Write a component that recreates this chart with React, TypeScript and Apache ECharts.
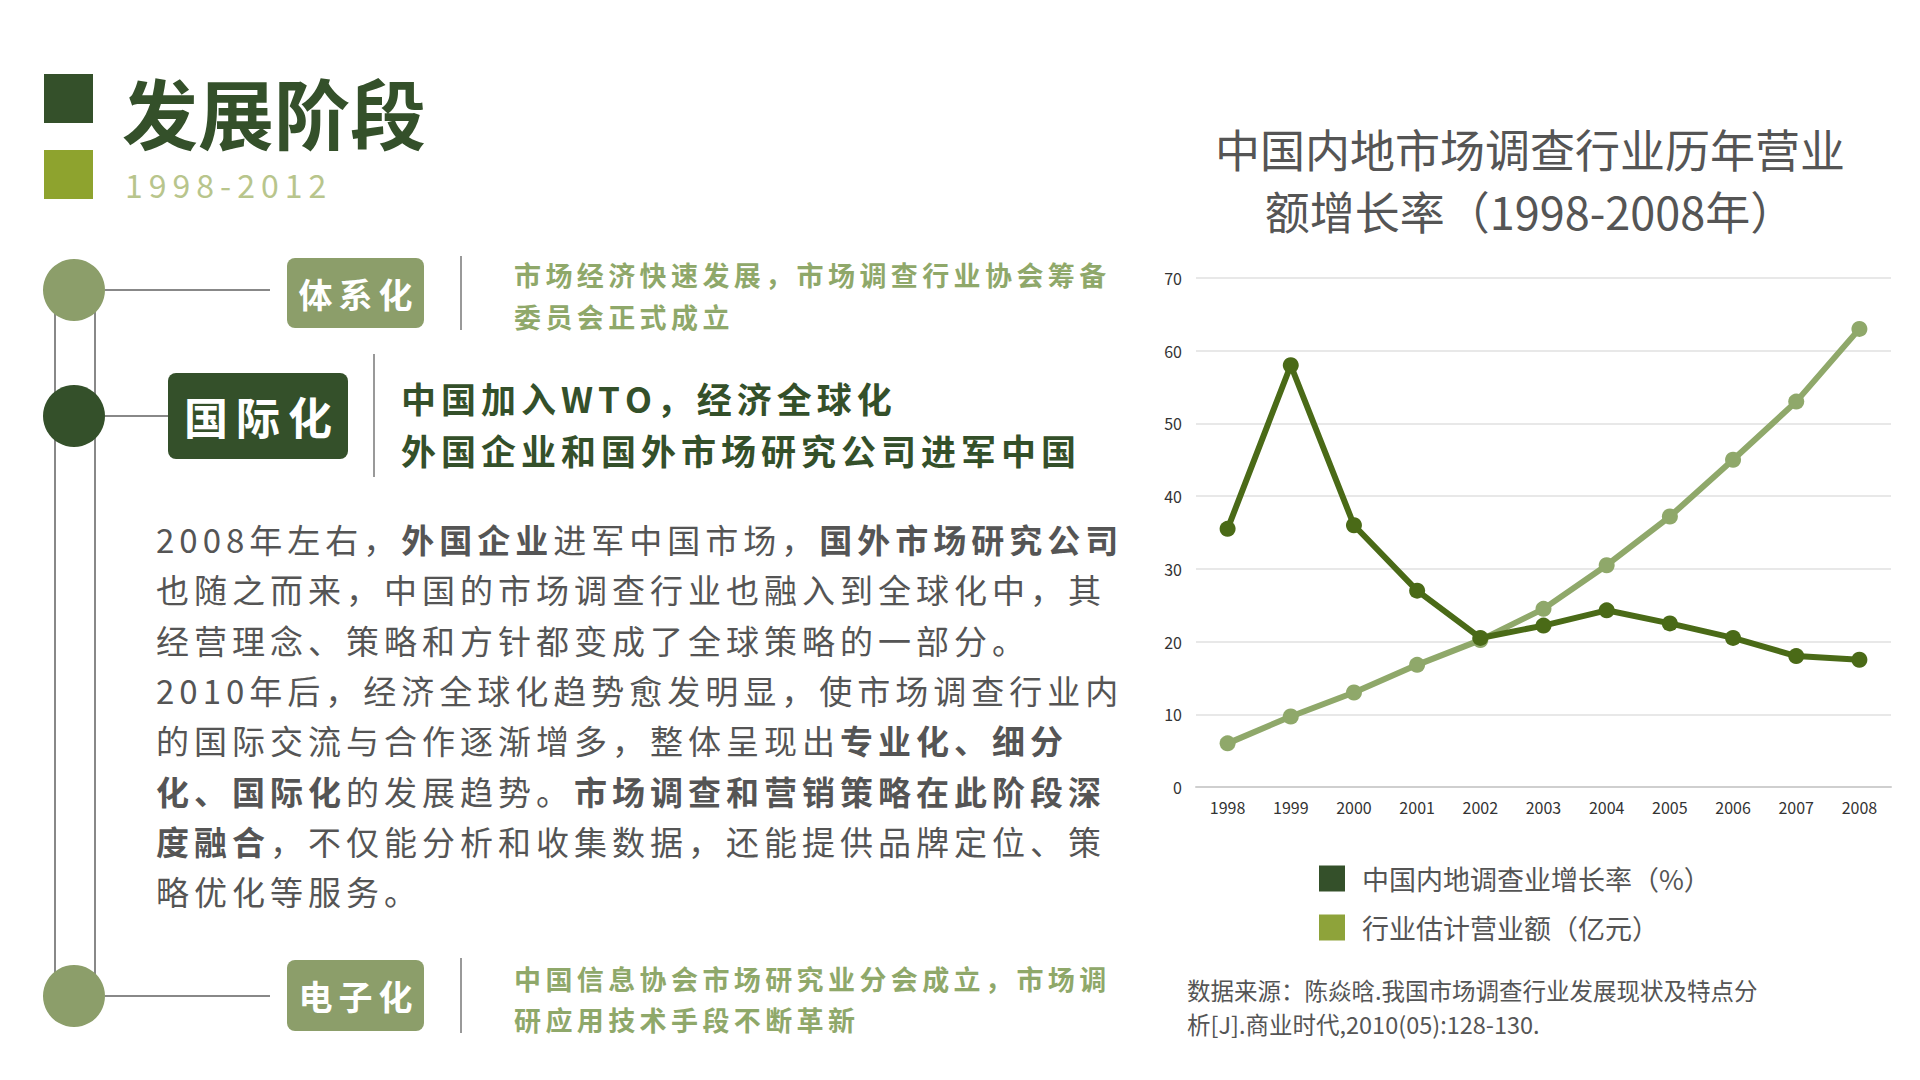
import { useEffect, useRef } from 'react'
import * as echarts from 'echarts'

const years = ['1998', '1999', '2000', '2001', '2002', '2003', '2004', '2005', '2006', '2007', '2008']
const growthRate = [35.5, 58, 36, 27, 20.5, 22.2, 24.3, 22.5, 20.5, 18, 17.5]
const revenue = [6, 9.7, 13, 16.8, 20.2, 24.5, 30.5, 37.2, 45, 53, 63]
const seriesNames = ['中国内地调查业增长率（%）', '行业估计营业额（亿元）']

const paragraph = [
  [{ t: '2008年左右，' }, { t: '外国企业', b: 1 }, { t: '进军中国市场，' }, { t: '国外市场研究公司', b: 1 }],
  [{ t: '也随之而来，中国的市场调查行业也融入到全球化中，其' }],
  [{ t: '经营理念、策略和方针都变成了全球策略的一部分。' }],
  [{ t: '2010年后，经济全球化趋势愈发明显，使市场调查行业内' }],
  [{ t: '的国际交流与合作逐渐增多，整体呈现出' }, { t: '专业化、细分', b: 1 }],
  [{ t: '化、国际化', b: 1 }, { t: '的发展趋势。' }, { t: '市场调查和营销策略在此阶段深', b: 1 }],
  [{ t: '度融合', b: 1 }, { t: '，不仅能分析和收集数据，还能提供品牌定位、策' }],
  [{ t: '略优化等服务。' }],
]

const FONT = '"Noto Sans CJK SC", "Noto Sans", sans-serif'
const DARK = '#34502a'
const MID = '#8c9e6a'
const GRAY = '#555555'

const ctx = document.createElement('canvas').getContext('2d')!
// 逐字排布，模拟字间距
function spaced(x: number, y: number, text: string, size: number, color: string, weight: string, gap: number) {
  ctx.font = `${weight} ${size}px ${FONT}`
  const els: any[] = []
  let cx = x
  for (const ch of Array.from(text)) {
    els.push({
      type: 'text', x: cx, y,
      style: { text: ch, fontSize: size, fill: color, fontWeight: weight, fontFamily: FONT, verticalAlign: 'middle' },
    })
    cx += ctx.measureText(ch).width + gap
  }
  return { els, end: cx }
}

export default function App() {
  const ref = useRef<HTMLDivElement>(null)

  useEffect(() => {
    if (!ref.current) return
    const chart = echarts.init(ref.current, null, { renderer: 'svg' })

    const txt = (x: number, y: number, text: string, size: number, color: string, weight = 'normal', extra: any = {}) => ({
      type: 'text', x, y,
      style: { text, fontSize: size, fill: color, fontWeight: weight, fontFamily: FONT, verticalAlign: 'middle', ...extra },
    })
    const sp = (x: number, y: number, text: string, size: number, color: string, weight: string, gap: number) =>
      spaced(x, y, text, size, color, weight, gap).els
    const tag = (x: number, y: number, w: number, h: number, label: string, fill: string, size: number) => {
      const gap = size * 0.18
      ctx.font = `bold ${size}px ${FONT}`
      const tw = ctx.measureText(label).width + gap * (label.length - 1)
      return [
        { type: 'rect', shape: { x, y, width: w, height: h, r: 8 }, style: { fill } },
        ...sp(x + (w - tw) / 2, y + h / 2, label, size, '#fff', 'bold', gap),
      ]
    }
    const line = (x1: number, y1: number, x2: number, y2: number, color = '#888') => ({
      type: 'line', shape: { x1, y1, x2, y2 }, style: { stroke: color, lineWidth: 2 },
    })

    const paraEls: any[] = []
    paragraph.forEach((segs, i) => {
      let x = 156
      for (const s of segs) {
        const r = spaced(x, 539 + i * 50.3, s.t, 33, GRAY, s.b ? 'bold' : 'normal', 5)
        paraEls.push(...r.els)
        x = r.end
      }
    })

    chart.setOption({
      animation: false,
      backgroundColor: '#fff',
      title: {
        text: '中国内地市场调查行业历年营业\n额增长率（1998-2008年）',
        left: 1525, top: 112, textAlign: 'center',
        textStyle: { fontSize: 45, fontWeight: 'normal', color: GRAY, fontFamily: FONT, lineHeight: 62 },
      },
      grid: { left: 1196, right: 29, top: 278, height: 509 },
      legend: {
        orient: 'vertical', left: 1314, top: 860, itemGap: 22,
        icon: 'rect', itemWidth: 26, itemHeight: 26,
        textStyle: { fontSize: 27, color: GRAY, fontFamily: FONT, padding: [0, 0, 0, 12] },
        data: [
          { name: seriesNames[0], itemStyle: { color: DARK } },
          { name: seriesNames[1], itemStyle: { color: '#8ea33a' } },
        ],
      },
      xAxis: {
        type: 'category', data: years,
        axisLine: { lineStyle: { color: '#cfcfcf', width: 2 } }, axisTick: { show: false },
        axisLabel: { fontSize: 16, color: '#333', fontFamily: FONT, margin: 12 },
      },
      yAxis: {
        type: 'value', min: 0, max: 70, interval: 10,
        axisLine: { show: false }, axisTick: { show: false },
        axisLabel: { fontSize: 16, color: '#333', fontFamily: FONT, margin: 14 },
        splitLine: { lineStyle: { color: '#e0e0e0', width: 1.5 } },
      },
      series: [
        {
          name: seriesNames[1], type: 'line', data: revenue, symbol: 'circle', symbolSize: 16,
          lineStyle: { width: 6, color: '#8fa86a' }, itemStyle: { color: '#8fa86a' },
        },
        {
          name: seriesNames[0], type: 'line', data: growthRate, symbol: 'circle', symbolSize: 16,
          lineStyle: { width: 6, color: '#4a6a17' }, itemStyle: { color: '#4a6a17' },
        },
      ],
      graphic: [
        { type: 'rect', shape: { x: 44, y: 74, width: 49, height: 49 }, style: { fill: DARK } },
        { type: 'rect', shape: { x: 44, y: 150, width: 49, height: 49 }, style: { fill: '#8ea32e' } },
        txt(122, 111, '发展阶段', 76, DARK, 'bold'),
        ...sp(125, 184, '1998-2012', 32, '#b8c58c', 'normal', 6),
        line(55, 290, 55, 996), line(95, 290, 95, 996),
        line(105, 290, 270, 290), line(105, 416, 170, 416), line(105, 996, 270, 996),
        { type: 'circle', shape: { cx: 74, cy: 290, r: 31 }, style: { fill: MID } },
        { type: 'circle', shape: { cx: 74, cy: 416, r: 31 }, style: { fill: DARK } },
        { type: 'circle', shape: { cx: 74, cy: 996, r: 31 }, style: { fill: MID } },
        ...tag(287, 258, 137, 70, '体系化', MID, 34),
        ...tag(168, 373, 180, 86, '国际化', DARK, 44),
        ...tag(287, 960, 137, 71, '电子化', MID, 34),
        line(461, 256, 461, 330, '#999'), line(374, 354, 374, 477, '#999'), line(461, 958, 461, 1033, '#999'),
        ...sp(514, 274, '市场经济快速发展，市场调查行业协会筹备', 27, '#8fa86a', 'bold', 4.4),
        ...sp(514, 316, '委员会正式成立', 27, '#8fa86a', 'bold', 4.4),
        ...sp(401, 397, '中国加入WTO，经济全球化', 35, DARK, 'bold', 5),
        ...sp(401, 449, '外国企业和国外市场研究公司进军中国', 35, DARK, 'bold', 5),
        ...paraEls,
        ...sp(514, 978, '中国信息协会市场研究业分会成立，市场调', 27, '#8fa86a', 'bold', 4.4),
        ...sp(514, 1019, '研应用技术手段不断革新', 27, '#8fa86a', 'bold', 4.4),
        txt(1187, 990, '数据来源：陈焱晗.我国市场调查行业发展现状及特点分', 23.5, GRAY),
        txt(1187, 1024, '析[J].商业时代,2010(05):128-130.', 23.5, GRAY),
      ],
    })
    return () => chart.dispose()
  }, [])

  return <div ref={ref} style={{ position: 'fixed', left: 0, top: 0, width: 1920, height: 1080 }} />
}
